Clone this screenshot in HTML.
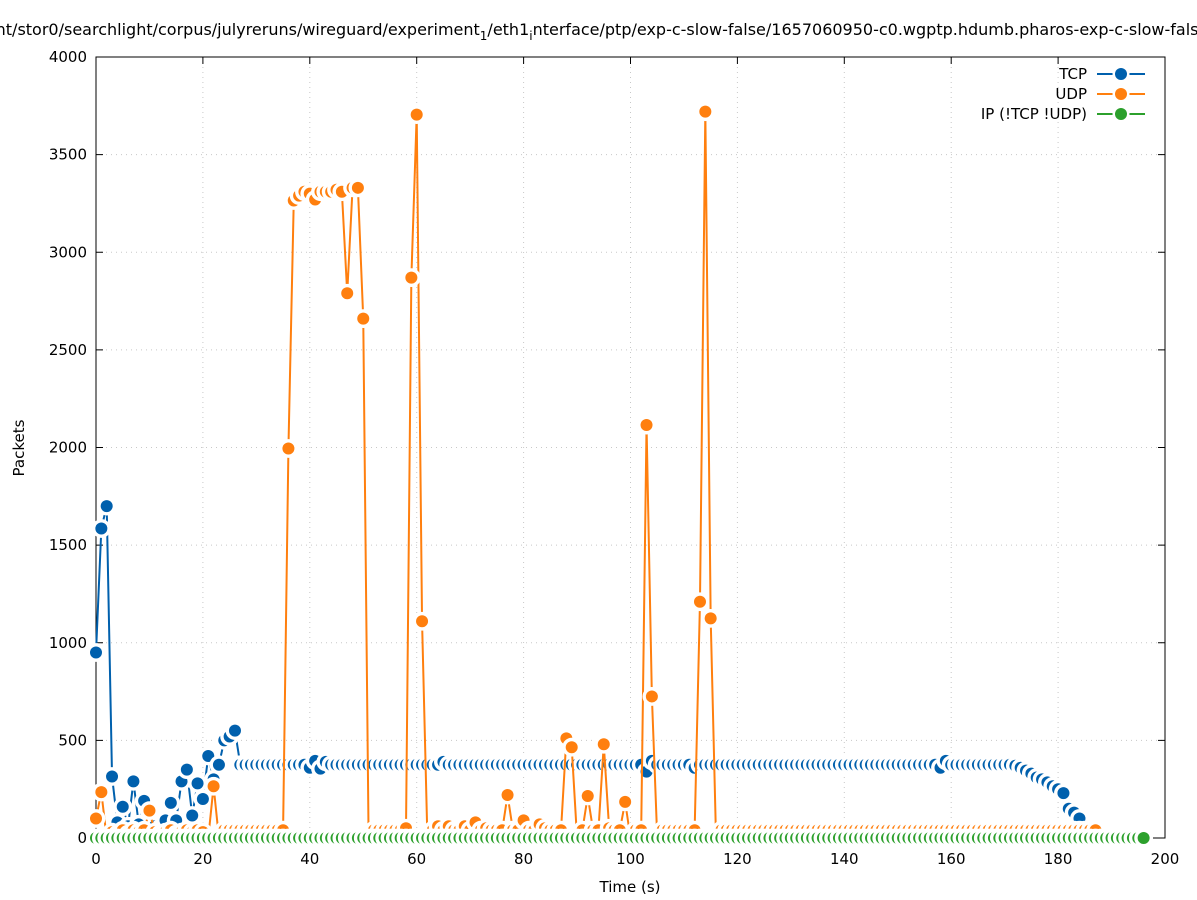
<!DOCTYPE html>
<html><head><meta charset="utf-8"><style>
html,body{margin:0;padding:0;background:#fff;}
svg{display:block;font-family:"DejaVu Sans","Liberation Sans",sans-serif;}
</style></head><body>
<svg id="chart" width="1197" height="900" viewBox="0 0 1197 900" xmlns="http://www.w3.org/2000/svg">
<text x="602" y="35" font-size="16" text-anchor="middle">nt/stor0/searchlight/corpus/julyreruns/wireguard/experiment<tspan font-size="12" dy="5">1</tspan><tspan dy="-5">/eth1</tspan><tspan font-size="12" dy="5">i</tspan><tspan dy="-5">nterface/ptp/exp-c-slow-false/1657060950-c0.wgptp.hdumb.pharos-exp-c-slow-false</tspan></text>
<g id="grid"></g>
<g id="axes"></g>
<g id="series"></g>
<g id="legend"></g>
<text x="630" y="892" font-size="15" text-anchor="middle">Time (s)</text>
<text transform="translate(24,448) rotate(-90)" font-size="15" text-anchor="middle">Packets</text>
</svg>
<script>
const xTicks=[0,20,40,60,80,100,120,140,160,180,200];
const yTicks=[0,500,1000,1500,2000,2500,3000,3500,4000];
const tcpValues=[950,1585,1700,315,80,160,60,290,70,190,130,60,50,90,180,90,290,350,115,280,200,420,300,375,500,520,550,
375,375,375,375,375,375,375,375,375,375,375,375,375,
360,395,355,390,
375,375,375,375,375,375,375,375,375,375,375,375,375,375,375,375,375,375,375,375,375,
390,
375,375,375,375,375,375,375,375,375,375,375,375,375,375,375,375,375,375,375,375,375,375,375,375,375,375,375,375,375,375,375,375,375,375,375,375,375,
340,395,
375,375,375,375,375,375,375,
360,
375,375,375,375,375,375,375,375,375,375,375,375,375,375,375,375,375,375,375,375,375,375,375,375,375,375,375,375,375,375,375,375,375,375,375,375,375,375,375,375,375,375,375,375,375,
360,395,
375,375,375,375,375,375,375,375,375,375,375,
375,370,360,345,330,310,300,285,265,250,230,150,130,100];
const udpValues=[100,235,0,30,20,40,20,40,30,40,140,30,20,30,40,20,30,40,30,40,30,0,265,0,40,
40,40,40,40,40,40,40,40,40,40,40,1995,3265,3290,3310,3300,3270,3310,3310,3310,3320,3310,2790,3330,3330,2660,0,
40,40,40,40,40,40,50,2870,3705,1110,0,40,60,40,60,40,40,60,40,80,40,50,40,40,40,220,40,40,90,40,40,70,50,40,40,40,
510,465,0,40,215,40,40,480,50,40,40,185,0,40,40,2115,725,0,40,40,40,40,40,40,40,1210,3720,1125,0,
40,40,40,40,40,40,40,40,40,40,40,40,40,40,40,40,40,40,40,40,40,40,40,40,40,40,40,40,40,40,40,40,40,40,40,
40,40,40,40,40,40,40,40,40,40,40,40,40,40,40,40,40,40,40,40,40,40,40,40,40,40,40,40,40,40,40,40,40,40,40,40];
const ipValues=[0,0,0,0,0,0,0,0,0,0,0,0,0,0,0,0,0,0,0,0,0,0,0,0,0,0,0,0,0,0,0,0,0,0,0,0,0,0,0,0,0,0,0,0,0,0,0,0,0,0,
0,0,0,0,0,0,0,0,0,0,0,0,0,0,0,0,0,0,0,0,0,0,0,0,0,0,0,0,0,0,0,0,0,0,0,0,0,0,0,0,0,0,0,0,0,0,0,0,0,0,
0,0,0,0,0,0,0,0,0,0,0,0,0,0,0,0,0,0,0,0,0,0,0,0,0,0,0,0,0,0,0,0,0,0,0,0,0,0,0,0,0,0,0,0,0,0,0,0,0,0,
0,0,0,0,0,0,0,0,0,0,0,0,0,0,0,0,0,0,0,0,0,0,0,0,0,0,0,0,0,0,0,0,0,0,0,0,0,0,0,0,0,0,0,0,0,0,0];
const seriesNames=["TCP","UDP","IP (!TCP  !UDP)"];
const NS="http://www.w3.org/2000/svg";
const L=96,R=1165,T=57,B=838;
function X(v){return L+(v-0)/(200-0)*(R-L);}
function Y(v){return B-(v-0)/(4000-0)*(B-T);}
function mk(tag,attrs,parent){const e=document.createElementNS(NS,tag);for(const k in attrs)e.setAttribute(k,attrs[k]);parent.appendChild(e);return e;}
const grid=document.getElementById('grid'),axes=document.getElementById('axes'),series=document.getElementById('series'),legend=document.getElementById('legend');
xTicks.forEach(t=>{
  if(t>0&&t<200){const g=mk('line',{x1:X(t),x2:X(t),y1:T,y2:B,stroke:'#c8c8c8','stroke-dasharray':'1,4'},grid);
  
  }
  const a=mk('line',{x1:X(t),x2:X(t),y1:B,y2:B-7,stroke:'#000'},axes);
  
  
  const a2=mk('line',{x1:X(t),x2:X(t),y1:T,y2:T+7,stroke:'#000'},axes);
  
  
  const lb=mk('text',{x:X(t),y:B+26,'font-size':15,'text-anchor':'middle'},axes);lb.textContent=t;
  
  
});
yTicks.forEach(t=>{
  if(t>0&&t<4000){const g=mk('line',{x1:L,x2:R,y1:Y(t),y2:Y(t),stroke:'#c8c8c8','stroke-dasharray':'1,4'},grid);
  
  }
  const a=mk('line',{x1:L,x2:L+7,y1:Y(t),y2:Y(t),stroke:'#000'},axes);
  
  
  const a2=mk('line',{x1:R,x2:R-7,y1:Y(t),y2:Y(t),stroke:'#000'},axes);
  
  
  const lb=mk('text',{x:L-9,y:Y(t)+5,'font-size':15,'text-anchor':'end'},axes);lb.textContent=t;
  
  
});
const frame=mk('rect',{x:L,y:T,width:R-L,height:B-T,fill:'none',stroke:'#000'},axes);


function drawSeries(vals,color,name){
  const g=mk('g',{},series);
  
  
  const pts=vals.map((v,i)=>X(i)+','+Y(v)).join(' ');
  const pl=mk('polyline',{points:pts,fill:'none',stroke:color,'stroke-width':2},g);
  
  
  vals.forEach((v,i)=>{
    const w=mk('circle',{cx:X(i),cy:Y(v),r:9.4,fill:'#fff'},g);
    
    
    const c=mk('circle',{cx:X(i),cy:Y(v),r:6,fill:color},g);
    
    
  });
}
drawSeries(tcpValues,'#0060ad','tcp');
drawSeries(udpValues,'#ff7f0e','udp');
drawSeries(ipValues,'#2ca02c','ip');
const lc=['#0060ad','#ff7f0e','#2ca02c'];
seriesNames.forEach((n,i)=>{
  const y=74+i*20;
  const t=mk('text',{x:1087,y:y+5,'font-size':15,'text-anchor':'end'},legend);t.textContent=n;
  
  
  const l=mk('line',{x1:1097,x2:1145,y1:y,y2:y,stroke:lc[i],'stroke-width':2},legend);
  
  
  const w=mk('circle',{cx:1121,cy:y,r:8.5,fill:'#fff'},legend);
  
  
  const c=mk('circle',{cx:1121,cy:y,r:6,fill:lc[i]},legend);
  
  
});
</script>
</body></html>
